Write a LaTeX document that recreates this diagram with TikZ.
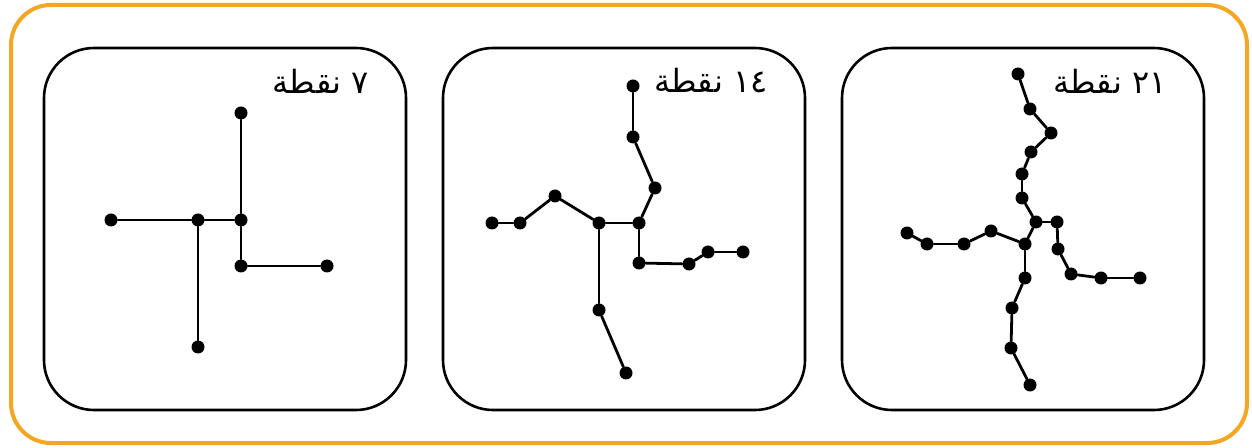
\documentclass[tikz,border=0pt]{standalone}
\usepackage{fontspec}
\usepackage{tikz}
\newfontfamily\arabicfont[Script=Arabic]{DejaVu Sans}
\TeXXeTstate=1
\definecolor{frameorange}{RGB}{245,166,35}
\tikzset{
  tdot/.style  ={circle,draw=none,fill=black,inner sep=0pt,minimum size=6.5pt},
  tedge/.style ={line width=1.4pt,line cap=round},
  pbox/.style  ={draw=black,line width=1.3pt,rounded corners=25pt},
  obox/.style  ={draw=frameorange,line width=2pt,rounded corners=20pt},
  plab/.style  ={anchor=east,inner sep=0pt,font=\arabicfont\fontsize{16}{18}\selectfont},
}
\newcommand{\pnl}[3]{%
  \draw[pbox] (#2,48) rectangle ++(362,362);
  \node[plab] (#1lab) at (#2+325,81) {#3};
}

\begin{document}
\begin{tikzpicture}[x=0.5pt,y=-0.5pt]
  \useasboundingbox (0,0) rectangle (1252,448);
  \draw[obox] (11,5) rectangle (1247,443);
  \pnl{A}{44}{\beginR ٧ نقطة\endR}  \pnl{B}{443}{\beginR ١٤ نقطة\endR}  \pnl{C}{842}{\beginR ٢١ نقطة\endR}
  \foreach \n/\x/\y in {a1/241/113, a2/241/220, a3/111/220, a4/198/220, a5/198/347, a6/241/266, a7/327/266}
    \node[tdot] (\n) at (\x,\y) {};
  \foreach \a/\b in {a3/a4, a4/a2, a4/a5, a1/a2, a2/a6, a6/a7}
    \draw[tedge] (\a) -- (\b);
  \foreach \n/\x/\y in {b1/633/86, b2/633/137, b3/655/188, b4/639/223, b5/599/223, b6/555/196, b7/520/223,
      b8/492/223, b9/639/263, b10/689/264, b11/708/252, b12/743/252, b13/599/310, b14/626/373}
    \node[tdot] (\n) at (\x,\y) {};
  \foreach \a/\b in {b1/b2, b2/b3, b3/b4, b4/b5, b5/b6, b6/b7, b7/b8, b4/b9, b9/b10, b10/b11, b11/b12, b5/b13, b13/b14}
    \draw[tedge] (\a) -- (\b);
  \foreach \n/\x/\y in {c1/1018/74, c2/1030/109, c3/1051/133, c4/1031/152, c5/1022/174, c6/1022/198, c7/1036/222,
      c8/1057/222, c9/1058/249, c10/1071/274, c11/1101/278, c12/1140/278, c13/1025/244, c14/991/231,
      c15/964/244, c16/927/244, c17/907/233, c18/1025/278, c19/1012/308, c20/1011/348, c21/1030/385}
    \node[tdot] (\n) at (\x,\y) {};
  \foreach \a/\b in {c1/c2, c2/c3, c3/c4, c4/c5, c5/c6, c6/c7, c7/c8, c8/c9, c9/c10, c10/c11, c11/c12,
      c7/c13, c13/c14, c14/c15, c15/c16, c16/c17, c13/c18, c18/c19, c19/c20, c20/c21}
    \draw[tedge] (\a) -- (\b);
\end{tikzpicture}
\end{document}
